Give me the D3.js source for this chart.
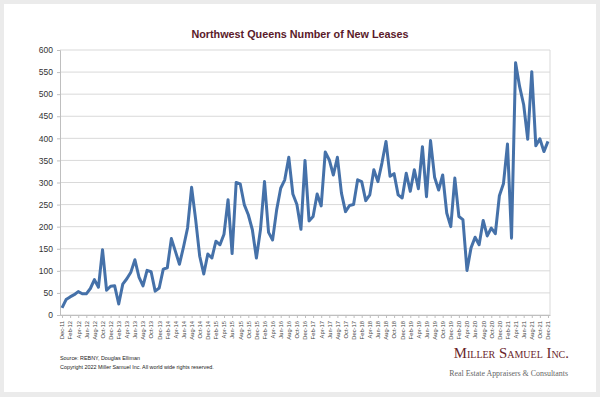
<!DOCTYPE html>
<html>
<head>
<meta charset="utf-8">
<script src="https://cdn.jsdelivr.net/npm/d3@7"></script>
<style>
  body { margin: 0; background: #fff; }
  svg { display: block; }
</style>
</head>
<body>
<div id="chart"></div>
<script>
// month categories, Dec-11 .. Dec-21
const months = [
  "Dec-11",
  "Jan-12","Feb-12","Mar-12","Apr-12","May-12","Jun-12","Jul-12","Aug-12","Sep-12","Oct-12","Nov-12","Dec-12",
  "Jan-13","Feb-13","Mar-13","Apr-13","May-13","Jun-13","Jul-13","Aug-13","Sep-13","Oct-13","Nov-13","Dec-13",
  "Jan-14","Feb-14","Mar-14","Apr-14","May-14","Jun-14","Jul-14","Aug-14","Sep-14","Oct-14","Nov-14","Dec-14",
  "Jan-15","Feb-15","Mar-15","Apr-15","May-15","Jun-15","Jul-15","Aug-15","Sep-15","Oct-15","Nov-15","Dec-15",
  "Jan-16","Feb-16","Mar-16","Apr-16","May-16","Jun-16","Jul-16","Aug-16","Sep-16","Oct-16","Nov-16","Dec-16",
  "Jan-17","Feb-17","Mar-17","Apr-17","May-17","Jun-17","Jul-17","Aug-17","Sep-17","Oct-17","Nov-17","Dec-17",
  "Jan-18","Feb-18","Mar-18","Apr-18","May-18","Jun-18","Jul-18","Aug-18","Sep-18","Oct-18","Nov-18","Dec-18",
  "Jan-19","Feb-19","Mar-19","Apr-19","May-19","Jun-19","Jul-19","Aug-19","Sep-19","Oct-19","Nov-19","Dec-19",
  "Jan-20","Feb-20","Mar-20","Apr-20","May-20","Jun-20","Jul-20","Aug-20","Sep-20","Oct-20","Nov-20","Dec-20",
  "Jan-21","Feb-21","Mar-21","Apr-21","May-21","Jun-21","Jul-21","Aug-21","Sep-21","Oct-21","Nov-21","Dec-21"
];

// new leases per month
const leases = [
  16,
  35, 41, 46, 53, 48, 48, 60, 80, 63, 148, 56, 65,
  66, 25, 70, 82, 97, 125, 86, 66, 101, 98, 54, 61,
  104, 107, 173, 144, 115, 154, 197, 289, 216, 133, 93, 138,
  129, 167, 159, 183, 261, 139, 300, 297, 250, 227, 193, 129,
  193, 302, 187, 170, 238, 287, 306, 357, 274, 250, 194, 350,
  213, 223, 274, 247, 369, 351, 317, 357, 276, 234, 248, 250,
  306, 302, 259, 272, 329, 302, 344, 393, 314, 320, 272, 265,
  321, 280, 329, 286, 381, 268, 395, 312, 283, 317, 231, 200,
  310, 223, 216, 101, 152, 176, 159, 214, 179, 197, 184, 270,
  297, 387, 174, 571, 517, 476, 398, 551, 383, 399, 370, 393
];

const yTicks = [0, 50, 100, 150, 200, 250, 300, 350, 400, 450, 500, 550, 600];

const W = 600, H = 397;
const plot = {left: 60, right: 550, top: 50, bottom: 315};

const svg = d3.select("#chart").append("svg")
    .attr("width", W)
    .attr("height", H);

// frame
svg.append("rect").attr("width", W).attr("height", H).attr("fill", "#ebebeb");
svg.append("rect")
    .attr("x", 4).attr("y", 4)
    .attr("width", W - 8).attr("height", H - 9)
    .attr("fill", "#fff");

const x = d3.scalePoint()
    .domain(months)
    .range([plot.left, plot.right])
    .padding(0.5);

const y = d3.scaleLinear()
    .domain([0, 600])
    .range([plot.bottom, plot.top]);

// gridlines
svg.append("g")
    .selectAll("line")
    .data(yTicks)
    .join("line")
    .attr("x1", plot.left).attr("x2", plot.right)
    .attr("y1", d => y(d)).attr("y2", d => y(d))
    .attr("stroke", "#d9d9d9")
    .attr("stroke-width", 1);

// right border of plot
svg.append("line")
    .attr("x1", plot.right).attr("x2", plot.right)
    .attr("y1", plot.top).attr("y2", plot.bottom)
    .attr("stroke", "#d9d9d9");

// y axis
const yAxis = svg.append("g")
    .attr("transform", `translate(${plot.left},0)`)
    .call(d3.axisLeft(y).tickValues(yTicks).tickSize(3).tickPadding(4));
yAxis.select(".domain").attr("stroke", "#bfbfbf");
yAxis.selectAll(".tick line").attr("stroke", "#bfbfbf");
yAxis.selectAll("text")
    .attr("font-family", "Liberation Sans, Arial, sans-serif")
    .attr("font-size", 8.5)
    .attr("fill", "#333");

// x axis
const labelled = months.filter((d, i) => i % 2 === 0);
const xAxis = svg.append("g")
    .attr("transform", `translate(0,${plot.bottom})`)
    .call(d3.axisBottom(x).tickValues(labelled).tickSize(3).tickPadding(2).tickSizeOuter(0));
xAxis.select(".domain").attr("stroke", "#bfbfbf");
xAxis.selectAll(".tick line").attr("stroke", "#bfbfbf");
xAxis.selectAll("text")
    .attr("font-family", "Liberation Sans, Arial, sans-serif")
    .attr("font-size", 5.8)
    .attr("fill", "#444")
    .attr("text-anchor", "end")
    .attr("dy", "0.32em")
    .attr("transform", "translate(0,2) rotate(-90)")
    .attr("x", -4)
    .attr("y", 0);

// line
const line = d3.line()
    .x((d, i) => x(months[i]))
    .y(d => y(d));

svg.append("path")
    .datum(leases)
    .attr("fill", "none")
    .attr("stroke", "#4571a9")
    .attr("stroke-width", 3)
    .attr("stroke-linejoin", "round")
    .attr("d", line);

// title
svg.append("text")
    .attr("x", 300).attr("y", 38)
    .attr("text-anchor", "middle")
    .attr("font-family", "Liberation Sans, Arial, sans-serif")
    .attr("font-weight", "bold")
    .attr("font-size", 10.8)
    .attr("fill", "#5a1a2a")
    .text("Northwest Queens Number of New Leases");

// footer
const foot = svg.append("g")
    .attr("font-family", "Liberation Sans, Arial, sans-serif")
    .attr("font-size", 5.4)
    .attr("fill", "#222");
foot.append("text").attr("x", 60).attr("y", 360).text("Source: REBNY, Douglas Elliman");
foot.append("text").attr("x", 60).attr("y", 369).text("Copyright 2022 Miller Samuel Inc.  All world wide rights reserved.");

svg.append("text")
    .attr("x", 569).attr("y", 358)
    .attr("text-anchor", "end")
    .attr("font-family", "Liberation Serif, Times New Roman, serif")
    .attr("font-size", 14.8)
    .attr("font-variant", "small-caps")
    .attr("fill", "#6a1f2b")
    .text("Miller Samuel Inc.");

svg.append("text")
    .attr("x", 568).attr("y", 376)
    .attr("text-anchor", "end")
    .attr("font-family", "Liberation Serif, Times New Roman, serif")
    .attr("font-size", 7.9)
    .attr("fill", "#666")
    .text("Real Estate Appraisers & Consultants");
</script>
</body>
</html>
